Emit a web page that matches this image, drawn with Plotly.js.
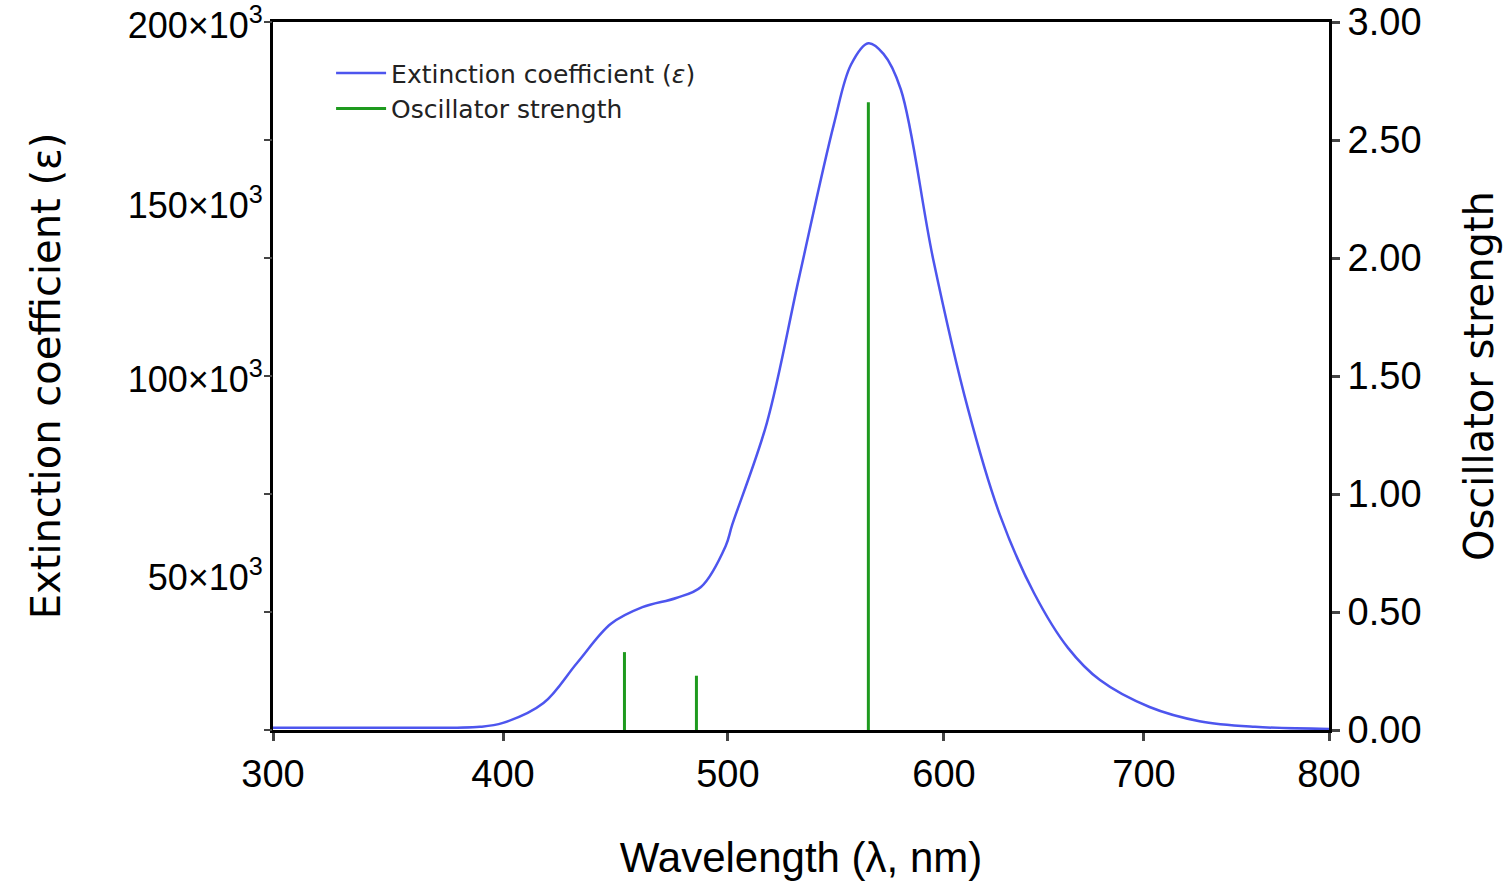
<!DOCTYPE html>
<html>
<head>
<meta charset="utf-8">
<script src="https://cdn.plot.ly/plotly-3.0.1.min.js"></script>
<style>body{margin:0;background:#fff}#chart{width:1511px;height:892px}</style>
</head>
<body>
<div id="chart"></div>
<script>
// absorption spectrum (nm, M^-1 cm^-1)
var wavelength = [300, 350, 390, 400, 418, 433, 448, 462, 477, 488, 499, 502, 518, 533, 549, 557, 565, 572, 580, 595, 612, 628, 645, 662, 678, 703, 730, 760, 800]
var epsilon = [650, 650, 900, 2000, 7600, 19000, 30000, 34700, 37300, 40400, 52000, 58000, 86700, 128000, 171000, 188000, 194000, 191000, 181000, 133000, 90700, 60700, 38700, 23200, 14100, 6500, 2500, 900, 300]

// computed transitions
var stickNm = [454, 486, 565]
var stickF = [0.33, 0.23, 2.66]

// wavelength tick labels, and the unevenly spaced places the reference puts them (in axis units)
var xTickLabels = [300, 400, 500, 600, 700, 800]
var xTickPos = [300, 408.9, 515.4, 617.7, 712.4, 800]

// the reference's x axis is not linear: warp nm onto axis units through its tick marks
const warp = (nm) => {
    if (nm == null) return null
    for (let i = 0; i < xTickLabels.length - 1; i++) {
        if (nm <= xTickLabels[i + 1]) {
            let t = (nm - xTickLabels[i]) / (xTickLabels[i + 1] - xTickLabels[i])
            return xTickPos[i] + t * (xTickPos[i + 1] - xTickPos[i])
        }
    }
    return xTickPos[xTickPos.length - 1]
}

var sx = [], sy = []
stickNm.forEach((w, i) => {
    sx.push(w, w, null)
    sy.push(0, stickF[i], null)
})

var leftLabels = [200000, 150000, 100000, 50000]
var leftLabelPos = [199000, 148300, 98900, 43000]
var leftText = leftLabels.map(v => (v / 1000) + '×10<sup>3</sup>')
var minorTicks = [0, 1, 2, 3, 4, 5, 6].map(k => k * 200000 / 6)

var data = [{
    x: wavelength.map(warp), y: epsilon, type: 'scatter', mode: 'lines', line: {color: '#4d55ee', width: 2.5, shape: 'spline'},
    name: 'Extinction coefficient (<i>ε</i>)'
}, {
    x: sx.map(warp), y: sy, yaxis: 'y2', type: 'scatter', mode: 'lines', line: {color: '#1e9a1e', width: 3},
    name: 'Oscillator strength'
}, {
    x: [300], y: [0], yaxis: 'y3', mode: 'markers', marker: {opacity: 0}, showlegend: false, hoverinfo: 'skip'
}]

var tickFont = {family: 'Liberation Sans, Arial', size: 38, color: '#000'}
var layout = {
    width: 1511, height: 892,
    margin: {l: 273, r: 182, t: 22, b: 162},
    paper_bgcolor: '#fff', plot_bgcolor: '#fff',
    showlegend: true,
    legend: {x: 0.055, y: 0.96, font: {family: 'DejaVu Sans', size: 25, color: '#222'}, bgcolor: 'rgba(0,0,0,0)',
        itemwidth: 50, tracegroupgap: 10},
    xaxis: {
        range: [300, 800], tickvals: xTickPos, ticktext: xTickLabels, ticks: 'outside', ticklen: 8, tickwidth: 3,
        showline: true, linewidth: 3, linecolor: '#000', mirror: true, showgrid: false, zeroline: false,
        tickfont: tickFont,
        title: {text: 'Wavelength (λ, nm)', font: {family: 'Liberation Sans, Arial', size: 42, color: '#000'}, standoff: 50}
    },
    yaxis: {
        range: [0, 200000], tickvals: leftLabelPos, ticktext: leftText, ticks: '', showgrid: false, zeroline: false,
        showline: true, linewidth: 3, linecolor: '#000', tickfont: {family: 'Liberation Sans, Arial', size: 36, color: '#000'},
        title: {text: 'Extinction coefficient (ε)', font: {family: 'DejaVu Sans', size: 40, color: '#000'}, standoff: 55}
    },
    yaxis2: {
        range: [0, 3], overlaying: 'y', side: 'right', tickvals: [0, 0.5, 1, 1.5, 2, 2.5, 3], tickformat: '.2f',
        ticks: 'outside', ticklen: 8, tickwidth: 3, showgrid: false, zeroline: false,
        showline: true, linewidth: 3, linecolor: '#000', tickfont: tickFont,
        title: {text: 'Oscillator strength', font: {family: 'DejaVu Sans', size: 40, color: '#000'}, standoff: 45}
    },
    yaxis3: {
        range: [0, 200000], overlaying: 'y', side: 'left', tickvals: minorTicks, showticklabels: false,
        ticks: 'outside', ticklen: 8, tickwidth: 2, showgrid: false, zeroline: false, showline: false
    }
}

Plotly.newPlot('chart', data, layout, {displayModeBar: false})
</script>
</body>
</html>
